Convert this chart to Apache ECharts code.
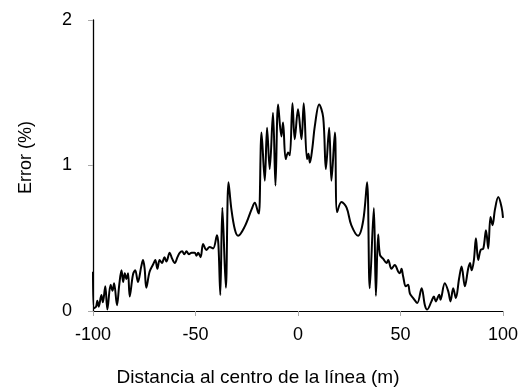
<!DOCTYPE html>
<html>
<head>
    <meta charset="utf-8">
    <title>Error vs distancia</title>
    <script src="https://cdn.jsdelivr.net/npm/echarts@6/dist/echarts.min.js"></script>
    <style>
        html, body { margin: 0; padding: 0; background: #fff; }
        #main { width: 527px; height: 392px; }
    </style>
</head>
<body>
<div id="main"></div>
<script type="text/javascript">
    // distancia (m) y error (%)
    var distancia = [
        -100, -99.5, -98.5, -97.9, -97.2, -95.9, -95.2, -94.0, -93.0, -91.4,
        -90.5, -89.7, -88.3, -87.2, -86.1, -85.3, -84.5, -83.7, -82.9, -82.1,
        -80.5, -79.4, -78.1, -76.4, -75.6, -74.8, -74.0, -72.4, -70.7, -69.6,
        -68.6, -67.5, -66.4, -65.1, -64.2, -62.6, -61.4, -60.1, -58.8, -57.7,
        -56.5, -55.5, -54.4, -53.2, -51.9, -50.4, -49.5, -48.7, -47.5, -46.3,
        -44.7, -43.1, -41.4, -39.5, -38.8, -37.9, -36.9, -35.2, -33.9, -32.5,
        -30.8, -29.2, -26.0, -22.6, -21.1, -19.5, -19.0, -17.8, -16.2, -15.1,
        -13.8, -12.2, -11.0, -9.7, -8.1, -7.3, -6.0, -4.8, -4.0, -2.7,
        -1.6, 0, 1.7, 2.8, 4.4, 5.1, 5.8, 7.0, 8.2, 10.3,
        12.3, 13.6, 15.2, 16.3, 18.0, 19.1, 21.2, 23.7, 26.0, 29.3,
        31.8, 33.7, 35.0, 37.0, 38.0, 39.1, 40.0, 41.5, 43.2, 44.0,
        45.6, 47.2, 48.9, 49.7, 50.5, 51.3, 52.6, 53.7, 54.6, 56.2,
        58.2, 60.3, 61.9, 63.0, 65.1, 66.3, 67.2, 68.9, 69.5, 71.6,
        73.3, 74.4, 75.7, 77.0, 78.6, 79.8, 81.4, 83.0, 83.9, 84.7,
        85.8, 86.8, 87.9, 89.1, 90.4, 91.7, 92.8, 93.9, 94.9, 96.1,
        97.7, 99.3, 100
    ];
    var error = [
        0.27, 0.02, 0.03, 0.07, 0.03, 0.11, 0.06, 0.17, 0.01, 0.18,
        0.14, 0.19, 0.04, 0.18, 0.28, 0.20, 0.26, 0.22, 0.26, 0.10,
        0.25, 0.28, 0.20, 0.31, 0.35, 0.29, 0.16, 0.27, 0.32, 0.35,
        0.29, 0.35, 0.33, 0.37, 0.34, 0.40, 0.36, 0.33, 0.37, 0.40,
        0.41, 0.39, 0.41, 0.39, 0.40, 0.40, 0.38, 0.40, 0.37, 0.46,
        0.42, 0.44, 0.43, 0.52, 0.45, 0.11, 0.71, 0.16, 0.885, 0.70,
        0.56, 0.517, 0.58, 0.70, 0.744, 0.68, 0.67, 1.227, 0.896, 1.26,
        0.976, 1.363, 0.862, 1.42, 1.20, 1.295, 1.044, 1.09, 1.07, 1.427,
        1.18, 1.386, 1.18, 1.427, 1.044, 1.08, 1.02, 1.12, 1.27, 1.42,
        1.33, 0.976, 1.26, 0.896, 1.227, 0.68, 0.749, 0.71, 0.59, 0.517,
        0.62, 0.885, 0.157, 0.708, 0.104, 0.526, 0.385, 0.36, 0.33, 0.35,
        0.29, 0.316, 0.27, 0.26, 0.29, 0.237, 0.17, 0.18, 0.12, 0.089,
        0.055, 0.157, 0.04, 0.01, 0.066, 0.10, 0.066, 0.112, 0.078, 0.19,
        0.135, 0.066, 0.157, 0.089, 0.225, 0.305, 0.17, 0.29, 0.33, 0.28,
        0.35, 0.50, 0.35, 0.42, 0.43, 0.555, 0.43, 0.646, 0.59, 0.70,
        0.783, 0.714, 0.64
    ];
    var xTicks = [-100, -50, 0, 50, 100];
    var yTicks = [0, 1, 2];

    var puntos = [];
    for (var i = 0; i < distancia.length; i++) {
        puntos.push([distancia[i], error[i]]);
    }

    var myChart = echarts.init(document.getElementById('main'));
    var fuente = 'Liberation Sans, Arial, sans-serif';

    var option = {
        animation: false,
        backgroundColor: '#ffffff',
        grid: { left: 93, right: 24, top: 20, bottom: 79 },
        xAxis: {
            type: 'value',
            min: xTicks[0],
            max: xTicks[xTicks.length - 1],
            interval: 50,
            name: 'Distancia al centro de la línea (m)',
            nameLocation: 'middle',
            nameGap: 57,
            // el titulo esta algo a la izquierda del centro del eje
            nameTextStyle: { color: '#000', fontSize: 19, fontFamily: fuente, padding: [0, 80, 0, 0] },
            axisLine: { show: true, onZero: false, lineStyle: { color: '#000', width: 1 } },
            axisTick: { show: true, length: 5, lineStyle: { color: '#aaa' } },
            axisLabel: { color: '#000', fontSize: 18, fontFamily: fuente, margin: 15 },
            splitLine: { show: false }
        },
        yAxis: {
            type: 'value',
            min: yTicks[0],
            max: yTicks[yTicks.length - 1],
            interval: 1,
            name: 'Error (%)',
            nameLocation: 'middle',
            nameGap: 58,
            nameRotate: 90,
            nameTextStyle: { color: '#000', fontSize: 18, fontFamily: fuente, padding: [0, 0, 0, 16] },
            axisLine: { show: true, onZero: false, lineStyle: { color: '#000', width: 1.3 } },
            axisTick: { show: true, length: 5, lineStyle: { color: '#aaa' } },
            axisLabel: { color: '#000', fontSize: 18, fontFamily: fuente, margin: 21 },
            splitLine: { show: false }
        },
        series: [
            {
                type: 'line',
                data: puntos,
                smooth: 0.35,
                symbol: 'none',
                lineStyle: { color: '#000', width: 2 }
            }
        ]
    };
    myChart.setOption(option);
</script>
</body>
</html>
